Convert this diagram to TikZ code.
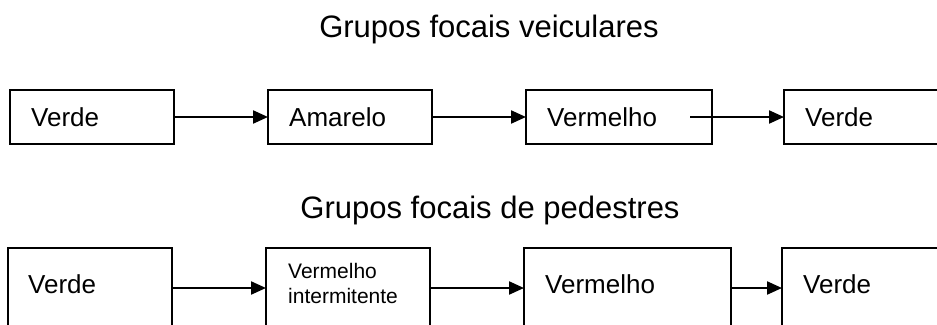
\documentclass[tikz,border=0pt]{standalone}
\usepackage{fontspec}
\setmainfont{Liberation Sans}
\usetikzlibrary{arrows.meta,calc}
\begin{document}
\begin{tikzpicture}[x=1pt,y=-1pt,
  box/.style={draw,line width=2.2pt,inner sep=0pt,outer sep=0pt,anchor=north west},
  lbl/.style={anchor=base west,inner sep=0pt,font=\fontsize{26}{31}\selectfont},
  small/.style={anchor=base west,inner sep=0pt,align=left,font=\fontsize{21}{25}\selectfont},
  ttl/.style={anchor=base,inner sep=0pt,font=\fontsize{31}{37}\selectfont},
  flow/.style={line width=2.2pt,-{Triangle[length=15pt,width=13pt]}}]
\useasboundingbox (0,0) rectangle (937,324);
\clip (0,0) rectangle (937,324);
% titles
\node[ttl] (title1) at (489,37) {Grupos focais veiculares};
\node[ttl] (title2) at (490,218) {Grupos focais de pedestres};
% top row boxes
\node[box,minimum width=164pt,minimum height=54pt] (v1) at (10,90) {};
\node[box,minimum width=164pt,minimum height=54pt] (v2) at (268,90) {};
\node[box,minimum width=186pt,minimum height=54pt] (v3) at (526,90) {};
\node[box,minimum width=200pt,minimum height=54pt] (v4) at (784,90) {};
\node[lbl] (tv1) at (31,126) {Verde};
\node[lbl] (tv2) at (289,126) {Amarelo};
\node[lbl] (tv3) at (547,126) {Vermelho};
\node[lbl] (tv4) at (805,126) {Verde};
\coordinate (v3s) at (690,117);
\draw[flow] (v1.east) -- (v2.west);
\draw[flow] (v2.east) -- (v3.west);
\draw[flow] (v3s) -- (v4.west);
% bottom row boxes
\node[box,minimum width=164pt,minimum height=100pt] (p1) at (8,248) {};
\node[box,minimum width=164pt,minimum height=100pt] (p2) at (266,248) {};
\node[box,minimum width=207pt,minimum height=100pt] (p3) at (524,248) {};
\node[box,minimum width=200pt,minimum height=100pt] (p4) at (782,248) {};
\node[lbl] (tp1) at (28,293) {Verde};
\node[small] (tp2) at (288,303) {Vermelho\\intermitente};
\node[lbl] (tp3) at (545,293) {Vermelho};
\node[lbl] (tp4) at (803,293) {Verde};
\draw[flow] ($(p1.north east)+(0,40)$) -- ($(p2.north west)+(0,40)$);
\draw[flow] ($(p2.north east)+(0,40)$) -- ($(p3.north west)+(0,40)$);
\draw[flow] ($(p3.north east)+(0,40)$) -- ($(p4.north west)+(0,40)$);
\end{tikzpicture}
\end{document}
